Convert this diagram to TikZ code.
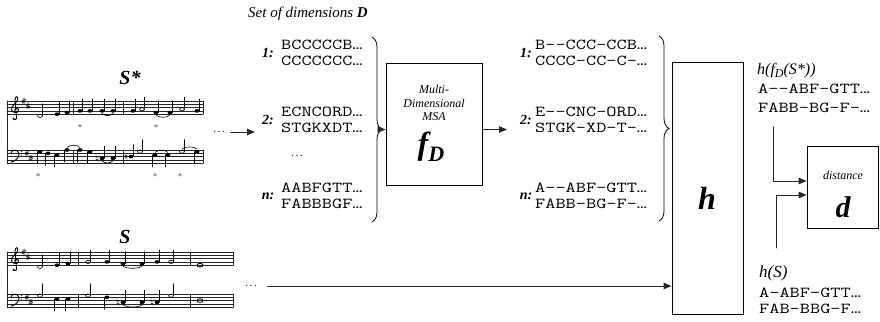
\documentclass[tikz,border=0pt]{standalone}
\usepackage{fontspec}
\setmainfont{Liberation Serif}
\newfontfamily\seqfont[FakeStretch=1.3,Ligatures=TeXOff]{Latin Modern Mono}
\usetikzlibrary{arrows.meta,decorations.pathreplacing,positioning}
\tikzset{
  staffline/.style={line width=0.6pt,black!85},
  stem/.style={line width=0.6pt},
  clef/.style={line width=0.9pt},
  blk/.style={draw,line width=0.9pt,inner sep=0pt},
  seq/.style={font=\seqfont\fontsize{15.2}{15.2}\selectfont,inner sep=0pt,anchor=west},
  num/.style={font=\fontsize{14}{14}\selectfont\bfseries\itshape,inner sep=0pt},
  ttl/.style={font=\fontsize{15}{15}\selectfont\itshape,inner sep=0pt},
  big/.style={font=\fontsize{32}{32}\selectfont\bfseries\itshape,inner sep=0pt},
  small/.style={font=\fontsize{12}{13.5}\selectfont\itshape,inner sep=0pt,align=center},
  ast/.style={font=\fontsize{9}{9}\selectfont,inner sep=0pt,black!70},
  brc/.style={decorate,decoration={brace,amplitude=10pt},line width=0.8pt},
  con/.style={line width=0.9pt,black!85},
}
% staff: x1, x2, bottom line y
\newcommand{\staffat}[3]{\foreach \k in {0,...,4}{\draw[staffline] (#1,{#3-3.3*\k}) -- (#2,{#3-3.3*\k});}}
\newcommand{\barat}[1]{\draw[staffline] (#1,\yb) -- (#1,\yb-13.2);}
\newcommand{\notey}[1]{\pgfmathsetmacro\ny{\yb-1.65*(#1)}}
\newcommand{\qu}[2]{\notey{#2}\fill (#1,\ny) ellipse (2.5 and 1.8);\draw[stem] ({#1+2.3},\ny) -- ({#1+2.3},\ny-12);}
\newcommand{\qd}[2]{\notey{#2}\fill (#1,\ny) ellipse (2.5 and 1.8);\draw[stem] ({#1-2.3},\ny) -- ({#1-2.3},\ny+12);}
\newcommand{\hu}[2]{\notey{#2}\draw[stem] (#1,\ny) ellipse (2.4 and 1.6);\draw[stem] ({#1+2.4},\ny) -- ({#1+2.4},\ny-12);}
\newcommand{\hd}[2]{\notey{#2}\draw[stem] (#1,\ny) ellipse (2.4 and 1.6);\draw[stem] ({#1-2.4},\ny) -- ({#1-2.4},\ny+12);}
\newcommand{\wn}[2]{\notey{#2}\draw[line width=0.9pt] (#1,\ny) ellipse (3 and 1.8);}
\newcommand{\shp}[2]{\notey{#2}\draw[line width=0.45pt] ({#1-0.9},\ny-3) -- ({#1-0.9},\ny+3) ({#1+0.9},\ny-3.4) -- ({#1+0.9},\ny+2.6) ({#1-2},\ny-0.4) -- ({#1+2},\ny-1.4) ({#1-2},\ny+1.4) -- ({#1+2},\ny+0.4);}
\newcommand{\nat}[2]{\notey{#2}\draw[line width=0.45pt] ({#1-1},\ny-4) -- ({#1-1},\ny+1.5) -- ({#1+1},\ny+1) ({#1+1},\ny+4) -- ({#1+1},\ny-1.5) -- ({#1-1},\ny-1);}
\newcommand{\tiedn}[3]{\notey{#3}\draw[stem] (#1,\ny+2.5) .. controls ({#1+3},\ny+5.5) and ({#2-3},\ny+5.5) .. (#2,\ny+2.5);}
\newcommand{\tieup}[3]{\notey{#3}\draw[stem] (#1,\ny-2.5) .. controls ({#1+3},\ny-5.5) and ({#2-3},\ny-5.5) .. (#2,\ny-2.5);}
\newcommand{\gclef}[1]{\begin{scope}[shift={(#1,\yb)}]
  \draw[clef] (-1.5,5) .. controls (0,7) and (2,5) .. (1.5,2) -- (0,-14) .. controls (-0.2,-18) and (3.5,-19) .. (2.6,-14.5) .. controls (2,-11) and (-4,-9) .. (-3.5,-4.5) .. controls (-3,-1) and (4,-0.5) .. (3.6,-4) .. controls (3.3,-7) and (-0.5,-6.5) .. (-0.3,-4);
  \fill (-1.6,4.4) circle (1);\end{scope}}
\newcommand{\fclef}[1]{\begin{scope}[shift={(#1,\yb)}]
  \draw[clef] (-3,-9.9) .. controls (-3,-14) and (5,-14.5) .. (5,-9) .. controls (5,-5) and (1,-2) .. (-3,-1);
  \fill (-2.6,-9.9) circle (1.2) (7.5,-11.5) circle (0.6) (7.5,-8.2) circle (0.6);\end{scope}}

\begin{document}
\begin{tikzpicture}[x=1pt,y=-1pt,>={Triangle[length=8pt,width=6.5pt]},line cap=round]
\useasboundingbox (0,0) rectangle (880,321);
% ---- S* score
\node[font=\fontsize{20}{20}\selectfont\bfseries\itshape] (sstar) at (130,78) {S*};
\def\yb{114.2}\staffat{7}{203}{\yb}\gclef{15}\shp{24}{8}\shp{28}{5}
\foreach \x in {73,123,203}{\barat{\x}}
\hu{40}{-1}\qu{57}{0}\qu{67}{1}
\qu{80}{2}\qu{90}{2}\qu{102}{2}\qu{113}{2}\tiedn{102}{113}{2}
\qu{133}{2}\hu{142}{3}\qu{156}{1}\qu{170}{1}\tiedn{156}{170}{1}\hu{182}{3}\qu{197}{2}
\def\yb{163.2}\staffat{7}{203}{\yb}\fclef{14}\shp{27}{6}\shp{31}{3}
\foreach \x in {73,123,203}{\barat{\x}}
\qd{40}{7}\qd{48}{6}\qd{57}{5}\qd{67}{8}\tieup{67}{80}{8}
\qd{80}{8}\qd{90}{7}\nat{97}{3}\qu{102}{3}\qu{113}{3}\tiedn{102}{113}{3}
\nat{126}{4}\qu{131}{4}\hu{140}{7}\qd{155}{5}\qd{168}{5}\tieup{155}{168}{5}\hu{182}{7}\qd{197}{7}\tieup{182}{197}{7}
\draw[staffline] (7,101) -- (7,163.2);
\foreach \x/\y [count=\i] in {80/128,156/128,38/177,155/177,180/177}{\node[ast] (ast\i) at (\x,\y) {*};}
\node[inner sep=0pt,font=\fontsize{13}{13}\selectfont,black!70] (sdots) at (219,132) {…};
% ---- S score
\node[font=\fontsize{20}{20}\selectfont\bfseries\itshape] (s) at (125,237) {S};
\def\yb{265.2}\staffat{7}{233}{\yb}\gclef{15}\shp{24}{8}\shp{28}{5}
\foreach \x in {78,190,233}{\barat{\x}}
\hu{40}{-1}\qu{57}{0}\qu{68}{1}
\hu{88}{2}\qu{107}{2}\qu{123}{1}\qu{142}{1}\tiedn{123}{142}{1}\qu{157}{2}\hu{171}{2}
\wn{200}{0}
\def\yb{307.2}\staffat{7}{233}{\yb}\fclef{14}\shp{27}{6}\shp{31}{3}
\foreach \x in {78,190,233}{\barat{\x}}
\hu{40}{7}\qd{57}{5}\qd{68}{5}
\hu{88}{7}\qd{107}{6}\nat{118}{3}\qu{123}{3}\qu{142}{3}\tiedn{123}{142}{3}\nat{152}{3}\qu{157}{3}\hu{171}{7}
\wn{200}{4}
\draw[staffline] (7,252) -- (7,307.2);
\node[inner sep=0pt,font=\fontsize{13}{13}\selectfont,black!70] (qdots) at (251,286) {…};
% ---- set of dimensions
\node[ttl,anchor=west] (setd) at (248,14) {Set of dimensions \textbf{D}};
\node[num] (l1) at (268,53) {1:};
\node[seq] (a1) at (281,45) {BCCCCCB…};
\node[seq] (b1) at (281,61) {CCCCCCC…};
\node[num] (l2) at (268,120) {2:};
\node[seq] (a2) at (281,112) {ECNCORD…};
\node[seq] (b2) at (281,128) {STGKXDT…};
\node[inner sep=0pt,font=\fontsize{13}{13}\selectfont,black!70] (ldots) at (297,156) {…};
\node[num] (ln) at (268,196) {n:};
\node[seq] (an) at (281,188) {AABFGTT…};
\node[seq] (bn) at (281,204) {FABBBGF…};
\draw[brc] (372,37) -- (372,222);
\coordinate (lcusp) at (380,129.5);
\coordinate (in1) at (255,132);
\draw[con,->] ([xshift=5pt]sdots.east |- in1) -- (in1);
% ---- MSA
\node[blk,minimum width=96pt,minimum height=122pt] (msa) at (434,124) {};
\node[small] (msatxt) at (434,103) {Multi-\\Dimensional\\MSA};
\node[big] (fd) at (431,147) {f\raisebox{-7pt}{\fontsize{22}{22}\selectfont D}};
\draw[con,->] (lcusp) -- (msa.west |- lcusp);
\coordinate (mout) at (507,129.5);
\draw[con,->] (msa.east |- mout) -- (mout);
% ---- aligned dimensions
\node[num] (r1) at (526,53) {1:};
\node[seq] (c1) at (535,45) {B--CCC-CCB…};
\node[seq] (d1) at (535,61) {CCCC-CC-C-…};
\node[num] (r2) at (526,120) {2:};
\node[seq] (c2) at (535,112) {E--CNC-ORD…};
\node[seq] (d2) at (535,128) {STGK-XD-T-…};
\node[num] (rn) at (526,196) {n:};
\node[seq] (cn) at (535,188) {A--ABF-GTT…};
\node[seq] (dn) at (535,204) {FABB-BG-F-…};
\draw[brc] (659,36) -- (659,221);
% ---- h and d
\node[blk,minimum width=71pt,minimum height=252pt] (hbox) at (707.5,188) {};
\node[big] (h) at (707,198) {h};
\draw[con,->] ([xshift=10pt]qdots.east) -- (qdots.east -| hbox.west);
\node[anchor=west,font=\fontsize{16}{16}\selectfont\itshape,inner sep=0pt] (hfs) at (757,71) {h(f\raisebox{-3pt}{\fontsize{12}{12}\selectfont D}(S*))};
\node[seq] (hs1) at (758,89) {A--ABF-GTT…};
\node[seq] (hs2) at (758,108) {FABB-BG-F-…};
\node[anchor=west,font=\fontsize{17}{17}\selectfont\itshape,inner sep=0pt] (hq) at (759,273) {h(S)};
\node[seq] (hq1) at (759,293) {A-ABF-GTT…};
\node[seq] (hq2) at (759,309) {FAB-BBG-F…};
\node[blk,minimum width=71pt,minimum height=82pt] (dbox) at (842.5,187) {};
\node[small] (dist) at (843,175) {distance};
\node[font=\fontsize{30}{30}\selectfont\bfseries\itshape,inner sep=0pt] (d) at (843,207) {d};
\coordinate (up1) at (773,127);
\coordinate (lo1) at (776,248);
\draw[con,->] (up1) |- ([yshift=6pt]dbox.west);
\draw[con,->] (lo1) |- ([yshift=-8pt]dbox.west);
\end{tikzpicture}
\end{document}
